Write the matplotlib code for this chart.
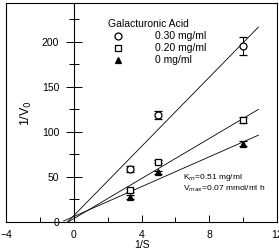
import numpy as np
import matplotlib
matplotlib.use('Agg')
import matplotlib.pyplot as plt
from matplotlib.lines import Line2D

plt.rcParams['font.family'] = ['Liberation Sans', 'DejaVu Sans']

# 1/S values and 1/V0 for each galacturonic acid level
inv_s = [3.33, 5.0, 10.0]
labels = ['0.30 mg/ml', '0.20 mg/ml', '0 mg/ml']
v_030 = [59, 119, 195]
v_020 = [35, 67, 113]
v_000 = [28, 55, 87]
err_030 = [3, 4.5, 10]
err_020 = [2, 2, 3.5]
err_000 = [2, 2, 3]

fig = plt.figure(figsize=(2.79, 2.50), dpi=100)
ax = fig.add_axes([0.0215, 0.112, 0.9715, 0.876])

series = [(v_030, err_030, 'o', 'white'),
          (v_020, err_020, 's', 'white'),
          (v_000, err_000, '^', 'black')]

x_line = np.array([-0.6, 10.9])
handles = []
for (vals, errs, mk, fc), lab in zip(series, labels):
    slope, icpt = np.polyfit(inv_s, vals, 1)
    ax.plot(x_line, icpt + slope * x_line, color='black', lw=0.6, zorder=2)
    ax.errorbar(inv_s, vals, yerr=errs, fmt=mk, mfc=fc, mec='black', mew=0.9,
                ms=5, ecolor='black', elinewidth=0.7, capsize=3, capthick=0.7,
                zorder=3)
    handles.append(Line2D([], [], ls='none', marker=mk, mfc=fc, mec='black',
                          mew=0.9, ms=5, label=lab))

ax.set_xlim(-4, 12)
ax.set_ylim(0, 243)

# y axis drawn through x = 0, box kept around the plot
ax.spines['left'].set_position(('data', 0))
for s in ['left', 'top', 'right', 'bottom']:
    ax.spines[s].set_linewidth(0.8)
ax.plot([0, 0], [0, 1], transform=ax.transAxes, color='black', lw=0.8, clip_on=False)

ax.set_xticks([-4, 0, 4, 8, 12])
ax.set_xticks([-2, 2, 6, 10], minor=True)
ax.set_yticks([0, 50, 100, 150, 200])
ax.set_yticks([25, 75, 125, 175, 225], minor=True)
ax.tick_params(axis='x', which='major', direction='in', length=5, width=0.7,
               labelsize=7.5, pad=6)
ax.tick_params(axis='x', which='minor', direction='in', length=3.5, width=0.7)
ax.tick_params(axis='y', which='major', direction='inout', length=11, width=0.7,
               labelsize=7.5, pad=5)
ax.tick_params(axis='y', which='minor', direction='inout', length=7, width=0.7)

ax.set_xlabel('1/S', fontsize=7.5, labelpad=0)
ax.text(-2.8, 121, '1/V$_0$', rotation=90, fontsize=9, ha='center', va='center')

ax.legend(handles=handles, title='Galacturonic Acid', loc='upper left',
          bbox_to_anchor=(0.36, 0.945), frameon=False, fontsize=7.5,
          title_fontsize=7.5, handlelength=2, handletextpad=2.5,
          labelspacing=0.2, alignment='left', borderaxespad=0)

ax.text(6.45, 56, 'K$_m$=0.51 mg/ml\nV$_{max}$=0.07 mmol/ml h', fontsize=6,
        ha='left', va='top', linespacing=1.2)

fig.savefig('out.png', dpi=100)
